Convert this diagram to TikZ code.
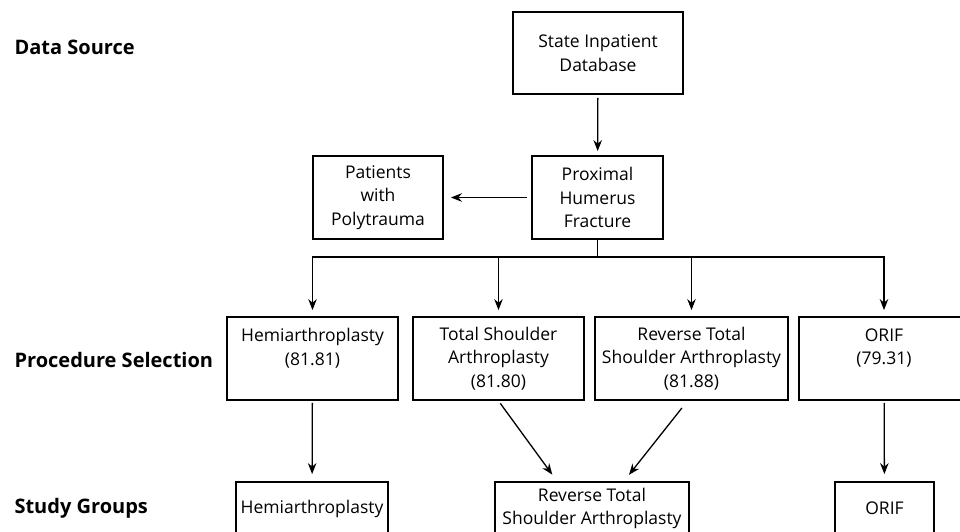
\documentclass[tikz,border=0pt]{standalone}
\usepackage{fontspec}
\setmainfont{Open Sans}
\usepackage{tikz}
\usetikzlibrary{arrows.meta,calc}

\begin{document}
\begin{tikzpicture}[x=1pt,y=-1pt,
		box/.style={draw,line width=1.8pt,align=center,inner sep=0pt,font=\fontsize{17.5}{23.5}\selectfont},
		heading/.style={anchor=west,font=\bfseries\fontsize{20}{24}\selectfont},
		arr/.style={-{Stealth[length=11pt,width=8.5pt]},line width=1.3pt}]
			\useasboundingbox (0,0) rectangle (960,532);
			\clip (0,0) rectangle (960,532);
			\node[heading] (lsrc) at (11,47) {Data Source};
			\node[heading] (lsel) at (11,360) {Procedure Selection};
			\node[heading] (lgrp) at (11,508) {Study Groups};
			\node[box,minimum width=170,minimum height=82] (sid) at (598,53) {State Inpatient\\Database};
			\node[box,minimum width=131,minimum height=83] (phf) at (597.5,197.5) {Proximal\\Humerus\\Fracture};
			\node[box,minimum width=130,minimum height=83] (poly) at (378,197.5) {Patients\\with\\Polytrauma};
			% two-line boxes keep an empty third line so their text starts at the top
			\node[box,minimum width=171,minimum height=83] (hemi) at (312.5,358.5) {Hemiarthroplasty\\(81.81)\\\mbox{}};
			\node[box,minimum width=171,minimum height=83] (tsa) at (498.5,358.5) {Total Shoulder\\Arthroplasty\\(81.80)};
			\node[box,minimum width=193,minimum height=83] (rtsa) at (691.5,358.5) {Reverse Total\\Shoulder Arthroplasty\\(81.88)};
			\node[box,minimum width=170,minimum height=83] (orif) at (884,358.5) {ORIF\\(79.31)\\\mbox{}};
			\node[box,minimum width=152,minimum height=53] (hemig) at (312,508.5) {Hemiarthroplasty};
			\node[box,minimum width=194,minimum height=53] (rtsag) at (592,508.5) {Reverse Total\\Shoulder Arthroplasty};
			\node[box,minimum width=99,minimum height=53] (orifg) at (884.5,508.5) {ORIF};
			\draw[arr,shorten <=3pt,shorten >=4pt] (sid) -- (phf);
			\draw[arr,line width=1.8pt,shorten <=4pt,shorten >=7pt] (phf) -- (poly);
			\draw[arr,shorten >=6pt] (phf.south) -- ++(0,17) -| (hemi.north);
			\draw[arr,shorten >=6pt] (phf.south) -- ++(0,17) -| (tsa.north);
			\draw[arr,shorten >=6pt] (phf.south) -- ++(0,17) -| (rtsa.north);
			\draw[arr,shorten >=6pt] (phf.south) -- ++(0,17) -| (orif.north);
			\draw[arr,shorten <=2pt,shorten >=7pt] (hemi) -- (hemig);
			\draw[arr,shorten <=3pt,shorten >=8pt] (tsa.south) -- ($(rtsag.north)+(-35,0)$);
			\draw[arr,shorten <=9pt,shorten >=8pt] ($(rtsa.south)+(-4,0)$) -- ($(rtsag.north)+(32,0)$);
			\draw[arr,shorten <=2pt,shorten >=7pt] (orif) -- (orifg);
		\end{tikzpicture}
\end{document}
